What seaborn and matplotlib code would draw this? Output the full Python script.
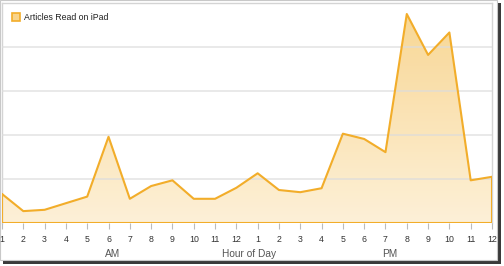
import numpy as np
import pandas as pd
import matplotlib
matplotlib.use("Agg")
import matplotlib.pyplot as plt
import seaborn as sns
from matplotlib.colors import LinearSegmentedColormap
from matplotlib.patches import Patch, Rectangle

# ---- data ----
hour_labels = ["1", "2", "3", "4", "5", "6", "7", "8", "9", "10", "11", "12",
               "1", "2", "3", "4", "5", "6", "7", "8", "9", "10", "11", "12"]
am_values = [66, 27, 30, 45, 60, 196, 55, 84, 97, 55, 55, 80]
pm_values = [113, 75, 70, 79, 203, 191, 161, 475, 382, 433, 97, 105]
series_name = "Articles Read on iPad"
values = am_values + pm_values

df = pd.DataFrame({"pos": np.arange(len(values)), "articles": values})

sns.set_theme(style="white")
plt.rcParams["font.family"] = ["Liberation Sans", "DejaVu Sans"]

W, H = 504, 266
fig = plt.figure(figsize=(W / 100, H / 100), dpi=100)
fig.patch.set_facecolor("white")

# frame with drop shadow
fig.patches.append(Rectangle((3 / W, 1 - 264 / H), 498 / W, 261 / H, transform=fig.transFigure,
                             facecolor="#3a3a3a", edgecolor="none", zorder=-3))
fig.patches.append(Rectangle((0, 1 - 260 / H), 497 / W, 260 / H, transform=fig.transFigure,
                             facecolor="white", edgecolor="#c8c8c8", linewidth=0.8, zorder=-2))

ax = fig.add_axes([2 / W, 1 - 223 / H, 490 / W, 220 / H])
ax.set_facecolor("none")

line_color = "#f2ad2a"

# gradient fill under the line
cmap = LinearSegmentedColormap.from_list("g", ["#fdf0d6", "#f8d48c"])
grad = np.linspace(0, 1, 256).reshape(-1, 1)
poly = ax.fill_between(df["pos"], df["articles"], 0, facecolor="none", edgecolor="none")
im = ax.imshow(grad, extent=[0, 23, 0, 500], origin="lower", aspect="auto", cmap=cmap,
               zorder=1, alpha=0.95)
im.set_clip_path(poly.get_paths()[0], transform=ax.transData)

sns.lineplot(data=df, x="pos", y="articles", ax=ax, color=line_color, linewidth=1.5,
             zorder=3, legend=False)
# outline along bottom and ends
ax.plot([0, 0, 23, 23], [values[0], 0, 0, values[-1]], color=line_color, linewidth=1.5,
        zorder=3, solid_joinstyle="miter")

ax.set_xlim(0, 23)
ax.set_ylim(0, 500)
ax.set_yticks([100, 200, 300, 400])
ax.set_yticklabels([])
ax.tick_params(axis="y", length=0)
ax.grid(axis="y", color="#dcdcdc", linewidth=1.2, zorder=2)
ax.set_axisbelow(False)
for gl in ax.get_ygridlines():
    gl.set_zorder(2)
    gl.set_alpha(0.75)

ax.set_xticks(df["pos"])
ax.set_xticklabels(hour_labels, fontsize=6.3, color="#333333")
ax.tick_params(axis="x", length=4, width=0.8, color="#bbbbbb", pad=4.5, direction="out",
               bottom=True)
ax.set_xlabel("")
ax.set_ylabel("")

for s in ["top", "right", "left"]:
    ax.spines[s].set_color("#d4d4d4")
    ax.spines[s].set_linewidth(1.0)
ax.spines["bottom"].set_visible(False)

# group labels
for xpos, txt in [(5.2, "AM"), (11.6, "Hour of Day"), (18.2, "PM")]:
    ax.text(xpos, -0.14, txt, transform=ax.get_xaxis_transform(), ha="center", va="center",
            fontsize=7.3, color="#555555")

handle = Patch(facecolor="#f8d48c", edgecolor=line_color, linewidth=1.2)
leg = ax.legend(handles=[handle], labels=[series_name], loc="upper left",
                bbox_to_anchor=(10 / 490, 1 - 10 / 220), frameon=False, fontsize=6.3,
                handlelength=0.9, handleheight=0.9, handletextpad=0.45, borderpad=0,
                borderaxespad=0)
for t in leg.get_texts():
    t.set_color("#222222")

fig.savefig("out.png", dpi=100, facecolor="white")
